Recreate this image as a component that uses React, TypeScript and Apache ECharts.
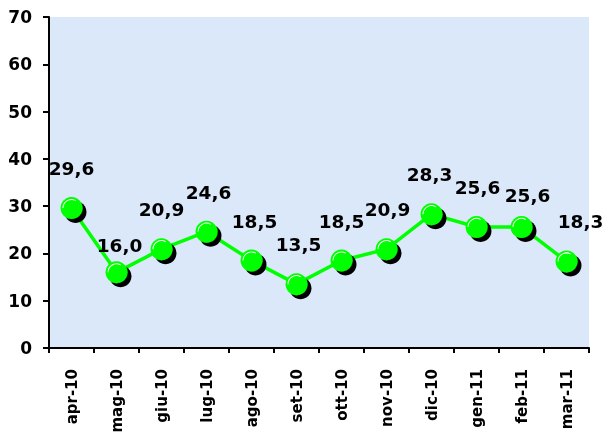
import React, { useEffect, useRef } from "react";
import * as echarts from "echarts";

const categories = ["apr-10", "mag-10", "giu-10", "lug-10", "ago-10", "set-10", "ott-10", "nov-10", "dic-10", "gen-11", "feb-11", "mar-11"];
const values = [29.6, 16.0, 20.9, 24.6, 18.5, 13.5, 18.5, 20.9, 28.3, 25.6, 25.6, 18.3];
const yTicks = [0, 10, 20, 30, 40, 50, 60, 70];

// label nudges (layout only)
const labelOffsets = [[0, 0], [3, 13], [0, 0], [2, 0], [3, 0], [2, 0], [0, 0], [1, 0], [-2, 0], [1, 0], [6, 8], [14, 0]];

const FONT = "DejaVu Sans";
const HIGHLIGHT = "path://M0,0 M22,22 M2,11 A9,9 0 0 1 15.5,3.2 L15,4.07 A8,8 0 0 0 3,11 Z";

export default function App() {
  const ref = useRef<HTMLDivElement>(null);
  useEffect(() => {
    if (!ref.current) return;
    const chart = echarts.init(ref.current, null, { renderer: "svg" });
    chart.setOption({
      animation: false,
      grid: {
        left: 49,
        right: 15,
        top: 17,
        bottom: 93,
        show: true,
        backgroundColor: "#dbe8f9",
        borderWidth: 0,
      },
      xAxis: {
        type: "category",
        data: categories,
        boundaryGap: true,
        axisLine: { lineStyle: { color: "#000", width: 2 } },
        axisTick: { show: true, length: 5, lineStyle: { color: "#000", width: 2 }, alignWithLabel: false },
        axisLabel: {
          rotate: 90,
          margin: 21,
          color: "#000",
          fontFamily: FONT,
          fontWeight: "bold",
          fontSize: 15,
          interval: 0,
        },
        splitLine: { show: false },
      },
      yAxis: {
        type: "value",
        min: yTicks[0],
        max: yTicks[yTicks.length - 1],
        interval: 10,
        axisLine: { show: true, lineStyle: { color: "#000", width: 2 } },
        axisTick: { show: true, length: 6, lineStyle: { color: "#000", width: 2 } },
        axisLabel: {
          margin: 17,
          color: "#000",
          fontFamily: FONT,
          fontWeight: "bold",
          fontSize: 17,
        },
        splitLine: { show: false },
      },
      series: [
        {
          type: "line",
          data: values.map((v, i) => ({
            value: v,
            label: { offset: labelOffsets[i] },
          })),
          symbol: "circle",
          symbolSize: 22,
          lineStyle: { color: "#00ff00", width: 3.5 },
          itemStyle: {
            color: "#00ff00",
            shadowColor: "#000",
            shadowOffsetX: 4,
            shadowOffsetY: 4,
            shadowBlur: 0,
          },
          label: {
            show: true,
            position: "top",
            distance: 19,
            color: "#000",
            fontFamily: FONT,
            fontWeight: "bold",
            fontSize: 18.5,
            formatter: (p: any) => Number(p.value).toFixed(1).replace(".", ","),
          },
          emphasis: { disabled: true },
          z: 3,
        },
        {
          type: "line",
          data: values,
          symbol: HIGHLIGHT,
          symbolSize: 22,
          symbolKeepAspect: true,
          showAllSymbol: true,
          lineStyle: { width: 0, opacity: 0 },
          itemStyle: { color: "#ffffff" },
          label: { show: false },
          emphasis: { disabled: true },
          silent: true,
          z: 4,
        },
      ],
    });
    return () => chart.dispose();
  }, []);
  return <div ref={ref} style={{ position: "fixed", left: 0, top: 0, width: 604, height: 441 }} />;
}
